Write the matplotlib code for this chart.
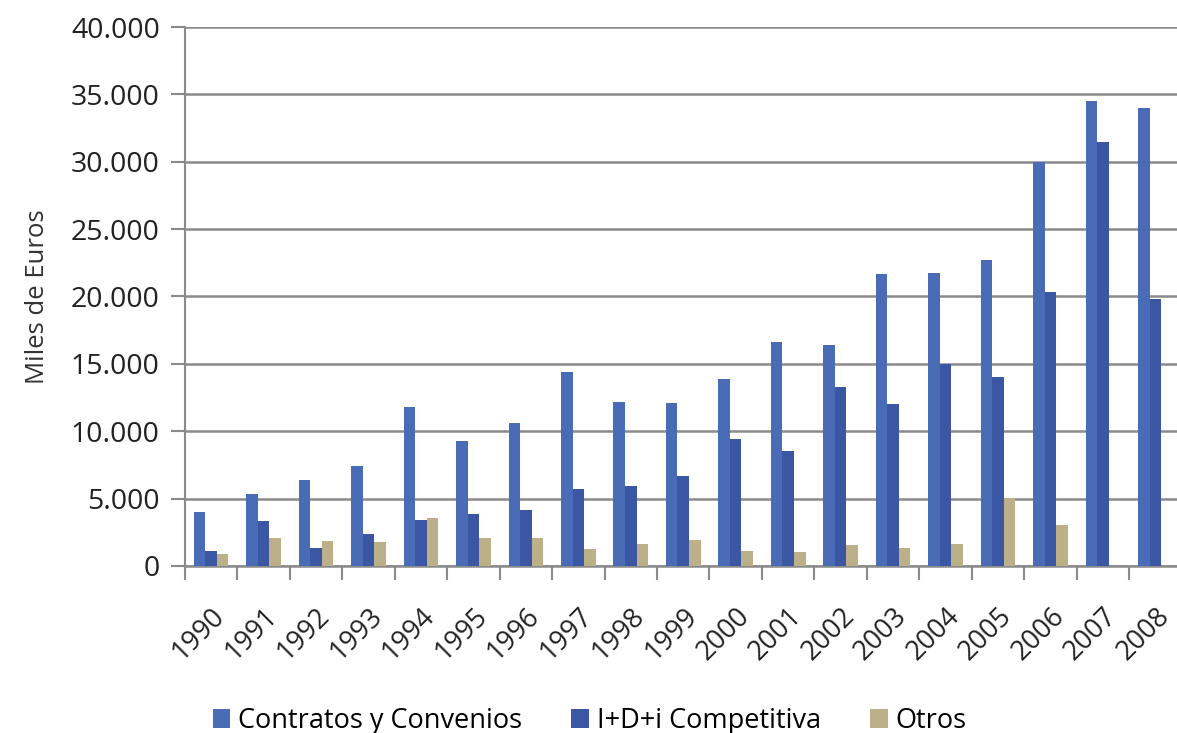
import numpy as np
import matplotlib
matplotlib.use("Agg")
import matplotlib.pyplot as plt
from matplotlib.ticker import FuncFormatter

plt.rcParams['font.family'] = ['Open Sans', 'DejaVu Sans']

# data (miles de euros)
years = [str(y) for y in range(1990, 2009)]
contratos = [4000, 5300, 6400, 7400, 11800, 9300, 10600, 14400, 12200, 12100,
             13900, 16600, 16400, 21700, 21750, 22700, 30000, 34500, 34000]
idi = [1100, 3300, 1350, 2350, 3400, 3850, 4150, 5700, 5950, 6700,
       9400, 8500, 13300, 12000, 15000, 14000, 20300, 31500, 19800]
otros = [850, 2100, 1850, 1780, 3550, 2080, 2080, 1260, 1630, 1930,
         1140, 1040, 1530, 1310, 1630, 5050, 3000, 0, 0]

series = [("Contratos y Convenios", contratos, "#4a6bb6"),
          ("I+D+i Competitiva", idi, "#3b56a3"),
          ("Otros", otros, "#bbb088")]

fig = plt.figure(figsize=(11.77, 7.33), dpi=100)
ax = fig.add_axes([0.157, 0.228, 0.847, 0.735])

x = np.arange(len(years))
w = 0.22
for i, (name, vals, col) in enumerate(series):
    ax.bar(x + (i - 1) * w, vals, width=w, color=col, label=name, zorder=3)

ax.set_xlim(-0.5, len(years) - 0.5)
ax.set_ylim(0, 40000)
ax.set_yticks(np.arange(0, 40001, 5000))
ax.yaxis.set_major_formatter(FuncFormatter(lambda v, p: f"{int(v):,}".replace(",", ".")))
ax.yaxis.grid(True, color="#8a8a8a", linewidth=1.8, zorder=0)
ax.tick_params(axis='y', length=10, width=1.5, color="#8a8a8a", labelsize=20.5,
               pad=8, labelcolor="#222222")

# category ticks sit between groups, labels at group centres
ax.set_xticks(np.arange(-0.5, len(years), 1.0))
ax.set_xticklabels([])
ax.set_xticks(x, minor=True)
ax.set_xticklabels(years, minor=True, rotation=45, ha='right', rotation_mode='anchor',
                   fontsize=19.5, color="#222222")
ax.tick_params(axis='x', which='major', length=10, width=1.5, color="#8a8a8a")
ax.tick_params(axis='x', which='minor', length=0, pad=26)

for s in ['top', 'right']:
    ax.spines[s].set_visible(False)
ax.spines['left'].set_color("#8a8a8a")
ax.spines['left'].set_linewidth(1.5)
ax.spines['bottom'].set_color("#8a8a8a")
ax.spines['bottom'].set_linewidth(1.8)

ax.set_ylabel("Miles de Euros", fontsize=18.5, color="#333333")
ax.yaxis.set_label_coords(-0.135, 0.5)

fig.legend(loc='lower left', bbox_to_anchor=(0.16, -0.036), ncol=3, frameon=False,
           fontsize=19.5, handlelength=0.65, handleheight=0.65, handletextpad=0.3,
           columnspacing=1.8)

fig.savefig("out.png", dpi=100)
